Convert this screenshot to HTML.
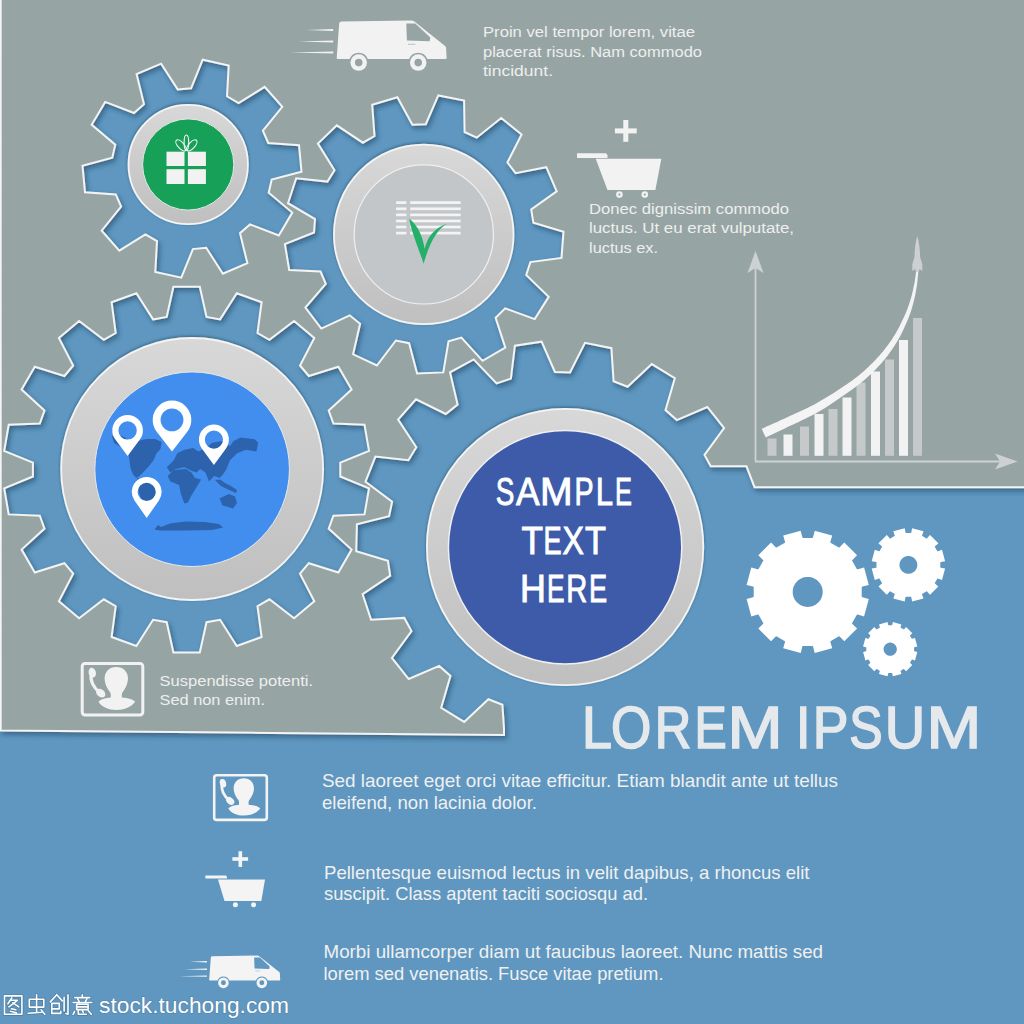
<!DOCTYPE html>
<html><head><meta charset="utf-8"><style>
html,body{margin:0;padding:0;background:#5f97c0;}
svg{display:block;}
text{font-family:"Liberation Sans", sans-serif;}
</style></head><body>
<svg width="1024" height="1024" viewBox="0 0 1024 1024">
<defs>
  <filter id="sh" x="-10%" y="-10%" width="120%" height="120%">
    <feGaussianBlur in="SourceAlpha" stdDeviation="2.6"/>
    <feOffset dx="2" dy="3" result="b"/>
    <feFlood flood-color="#163550" flood-opacity="0.5"/>
    <feComposite in2="b" operator="in"/>
    <feMerge><feMergeNode/><feMergeNode in="SourceGraphic"/></feMerge>
  </filter>
  <filter id="rsh" x="-20%" y="-20%" width="140%" height="140%">
    <feGaussianBlur in="SourceAlpha" stdDeviation="1.6"/>
    <feOffset dx="0" dy="-0.8" result="b"/>
    <feFlood flood-color="#163550" flood-opacity="0.55"/>
    <feComposite in2="b" operator="in"/>
    <feMerge><feMergeNode/><feMergeNode in="SourceGraphic"/></feMerge>
  </filter>
  <linearGradient id="ring" x1="0" y1="0" x2="0" y2="1">
    <stop offset="0" stop-color="#d8d8d8"/><stop offset="1" stop-color="#bfbfbf"/>
  </linearGradient>
</defs>
<rect width="1024" height="1024" fill="#5f97c0"/>
<path d="M746.5,466.3 L754.5,487.2 L1027.0,487.2 L1027.0,-3.0 L0.7,-3.0 L0.7,730.5 L504.0,735.0 L504.0,728.8 L502.4,704.7 L488.4,699.2 L464.2,721.9 L441.2,707.8 L450.5,675.9 L439.2,665.9 L408.7,679.0 L391.9,657.9 L411.5,631.1 L404.3,617.9 L371.1,619.7 L362.6,594.2 L390.2,575.7 L387.9,560.8 L356.2,551.2 L356.9,524.2 L389.1,516.3 L392.1,501.6 L365.5,481.7 L375.4,456.6 L408.4,460.2 L416.3,447.3 L398.1,419.6 L416.0,399.3 L445.8,414.0 L457.6,404.6 L450.0,372.3 L473.7,359.4 L496.6,383.4 L510.9,378.6 L514.9,345.7 L541.6,341.7 L554.9,372.0 L570.0,372.4 L585.0,342.8 L611.4,348.2 L613.6,381.3 L627.6,386.8 L651.8,364.1 L674.8,378.2 L665.5,410.1 L676.8,420.1 L707.3,407.0 L724.1,428.1 L704.5,454.9 L710.7,466.3 L744.0,466.3 L744.9,466.3 L744.9,466.3ZM177.8,89.6 L191.1,88.3 L202.7,59.7 L228.7,65.5 L227.0,96.3 L238.6,103.1 L264.7,86.8 L282.3,106.8 L262.9,130.7 L268.2,143.0 L299.0,145.2 L301.5,171.7 L271.7,179.6 L268.7,192.7 L292.3,212.6 L278.8,235.5 L250.0,224.4 L240.0,233.2 L247.4,263.2 L222.9,273.7 L206.2,247.8 L192.9,249.1 L181.3,277.7 L155.3,271.9 L157.0,241.1 L145.4,234.3 L119.3,250.6 L101.7,230.6 L121.1,206.7 L115.8,194.4 L85.0,192.2 L82.5,165.7 L112.3,157.8 L115.3,144.7 L91.7,124.8 L105.2,101.9 L134.0,113.0 L144.0,104.2 L136.6,74.2 L161.1,63.7ZM412.4,124.8 L425.8,124.2 L438.3,95.4 L464.1,100.6 L464.6,132.0 L476.7,137.7 L501.2,118.0 L521.6,134.5 L507.4,162.5 L515.6,173.2 L546.3,167.2 L556.7,191.3 L531.2,209.5 L533.4,222.8 L563.5,231.7 L561.5,257.9 L530.4,262.1 L526.2,274.9 L548.7,296.8 L534.7,319.1 L505.2,308.4 L495.6,317.7 L505.3,347.6 L482.6,360.8 L461.4,337.6 L448.5,341.4 L443.3,372.4 L417.1,373.5 L409.1,343.2 L395.9,340.5 L376.9,365.5 L353.1,354.3 L360.1,323.8 L349.7,315.3 L321.3,328.6 L305.4,307.6 L325.8,283.8 L320.5,271.5 L289.2,270.0 L284.9,244.1 L314.0,232.5 L315.0,219.1 L288.0,203.2 L296.2,178.3 L327.4,181.6 L334.5,170.2 L317.9,143.6 L336.8,125.3 L362.9,142.7 L374.5,136.0 L372.2,104.7 L397.4,97.3ZM153.1,319.4 L166.7,317.0 L173.4,286.7 L199.8,286.7 L206.5,317.0 L220.1,319.4 L236.8,293.2 L261.6,302.2 L257.5,333.0 L269.4,339.9 L294.1,321.0 L314.3,337.9 L300.0,365.5 L308.8,376.0 L338.4,366.7 L351.6,389.6 L328.7,410.6 L333.4,423.5 L364.5,424.8 L369.0,450.8 L340.3,462.7 L340.3,476.5 L369.0,488.4 L364.5,514.4 L333.4,515.7 L328.7,528.6 L351.6,549.6 L338.4,572.5 L308.8,563.2 L300.0,573.7 L314.3,601.3 L294.1,618.2 L269.4,599.3 L257.5,606.2 L261.6,637.0 L236.8,646.0 L220.1,619.8 L206.5,622.2 L199.8,652.5 L173.4,652.5 L166.7,622.2 L153.1,619.8 L136.4,646.0 L111.6,637.0 L115.7,606.2 L103.8,599.3 L79.1,618.2 L58.9,601.3 L73.2,573.7 L64.4,563.2 L34.8,572.5 L21.6,549.6 L44.5,528.6 L39.8,515.7 L8.7,514.4 L4.2,488.4 L32.9,476.5 L32.9,462.7 L4.2,450.8 L8.7,424.8 L39.8,423.5 L44.5,410.6 L21.6,389.6 L34.8,366.7 L64.4,376.0 L73.2,365.5 L58.9,337.9 L79.1,321.0 L103.8,339.9 L115.7,333.0 L111.6,302.2 L136.4,293.2Z" fill="#96a5a4" stroke="#f4f4f4" stroke-width="2.0" stroke-linejoin="miter" filter="url(#sh)"/>

<g filter="url(#rsh)">
<circle cx="188.2" cy="164.5" r="59.7" fill="url(#ring)" stroke="#f4f4f4" stroke-width="1.8"/>
<circle cx="423.75" cy="234.4" r="89.8" fill="url(#ring)" stroke="#f4f4f4" stroke-width="1.8"/>
<circle cx="192.15" cy="469" r="131" fill="url(#ring)" stroke="#f4f4f4" stroke-width="1.8"/>
<circle cx="565.1" cy="547" r="138.2" fill="url(#ring)" stroke="#f4f4f4" stroke-width="1.8"/>
</g>
<circle cx="188.2" cy="164.5" r="45.6" fill="#16a058" stroke="#e8e8e8" stroke-width="1"/>
<circle cx="423.8" cy="234.4" r="69.6" fill="#c2c6c9" stroke="#f0f0f0" stroke-width="1.2"/>
<circle cx="192.15" cy="469.2" r="97.3" fill="#428eef" stroke="#e8e8e8" stroke-width="1"/>
<circle cx="565.1" cy="547.3" r="116.7" fill="#3d5ba8" stroke="#f0f0f0" stroke-width="1.5"/>

<g fill="#f2f2f2">
<rect x="166.5" y="151.7" width="18" height="14.3"/><rect x="187.9" y="151.7" width="18" height="14.3"/>
<rect x="166.5" y="169.2" width="18" height="14.8"/><rect x="187.9" y="169.2" width="18" height="14.8"/>
</g>
<g fill="none" stroke="#f2f2f2" stroke-width="1.15">
<ellipse cx="186.4" cy="142.6" rx="2.3" ry="7.6"/>
<ellipse cx="181" cy="145.4" rx="3.1" ry="6.9" transform="rotate(-42 181 145.4)"/>
<ellipse cx="191.8" cy="145.4" rx="3.1" ry="6.9" transform="rotate(42 191.8 145.4)"/>
</g>

<g fill="#f4f4f4">
<rect x="396.1" y="201.25" width="10.3" height="2.7"/><rect x="410.2" y="201.25" width="50.5" height="2.7"/><rect x="396.1" y="207.45" width="10.3" height="2.7"/><rect x="410.2" y="207.45" width="50.5" height="2.7"/><rect x="396.1" y="213.55" width="10.3" height="2.7"/><rect x="410.2" y="213.55" width="50.5" height="2.7"/><rect x="396.1" y="219.65" width="10.3" height="2.7"/><rect x="410.2" y="219.65" width="50.5" height="2.7"/><rect x="396.1" y="225.65" width="10.3" height="2.7"/><rect x="410.2" y="225.65" width="50.5" height="2.7"/><rect x="396.1" y="231.75" width="10.3" height="2.7"/><rect x="410.2" y="231.75" width="50.5" height="2.7"/>
</g>
<path d="M409.1,218.4 C418,225 423,237 424.6,249 C427.5,237 434,228 447.4,223.5 C438,228.5 430,241 423.6,263.75 C418.5,248 411.5,232 409.1,218.4 Z" fill="#25b06a"/>

<g fill="#2d62ad">
<path d="M112,436 L118,435 L124,437 L130,441 L138,441 L146,439 L155.3,439 L161.6,442 L160.5,449 L156,454 L153.75,460 L149,466 L145,470.5 L142,473.5 L139,476.5 L136,477.5 L133,474.5 L130.5,468 L129.5,461 L128.5,453 L121,447 L114,443 Z"/>
<path d="M136,477 L141,479.5 L145,481.5 L140,482.5 Z"/>
<path d="M138.1,483.1 L147.5,481.6 L156.9,489.4 L155.3,498.75 L150.6,508.1 L147.5,514.4 L142.8,503.4 L138.9,492.5 Z"/>
<path d="M166.8,467.3 L173.8,460.3 L177.3,453.3 L184.4,449.8 L193.1,448 L198.4,451.5 L205.4,448 L212.5,442.7 L222,441 L230,446.2 L233.6,441 L240.6,437.5 L254.7,439.2 L258.2,442.7 L256.4,451.5 L245.9,449.8 L237.1,453.3 L230,460.3 L226.5,469.1 L223,474.4 L219.5,477.9 L214.2,476.1 L209,481.4 L205.4,472.6 L200.2,469.1 L196.6,472.6 L191.4,470.8 L184.4,467.3 L175.6,469.1 L170.3,472.6 Z"/>
<path d="M167.7,476.1 L173.8,470 L186.1,469.1 L191.4,472.6 L194.9,477.9 L201.1,479.6 L195.8,488.4 L191.4,495.4 L187.9,502.5 L184.4,503.4 L180.8,493.7 L179.1,484.9 L170.3,481.4 Z"/>
<path d="M215,480 L220,479.5 L225,483 L231,486 L237,490 L236,493 L229,490 L221,486 Z"/>
<path d="M219.5,498.5 L228.75,494 L235,496.5 L237,503 L233,508.5 L228,507 L222.5,505.5 Z"/>
<path d="M154.5,529.5 L158,525 L161,527 L170,523.5 L185,521.5 L205,522 L219,524 L223,527.5 L212,530 L185,530.6 L160,530.6 Z"/>
</g>
<path fill-rule="evenodd" fill="#ffffff" d="M127.60,455.90 L115.36,439.58 A15.3,15.3 0 1 1 139.84,439.58 Z M118.40,430.40 A9.2,9.2 0 1 0 136.80,430.40 A9.2,9.2 0 1 0 118.40,430.40 Z"/>
<path fill-rule="evenodd" fill="#ffffff" d="M172.00,451.50 L156.72,431.69 A19.3,19.3 0 1 1 187.28,431.69 Z M160.60,419.90 A11.4,11.4 0 1 0 183.40,419.90 A11.4,11.4 0 1 0 160.60,419.90 Z"/>
<path fill-rule="evenodd" fill="#ffffff" d="M213.90,465.00 L201.79,448.46 A15,15 0 1 1 226.01,448.46 Z M204.80,439.60 A9.1,9.1 0 1 0 223.00,439.60 A9.1,9.1 0 1 0 204.80,439.60 Z"/>
<path fill-rule="evenodd" fill="#ffffff" d="M146.70,518.00 L134.47,500.41 A14.9,14.9 0 1 1 158.93,500.41 Z M137.60,491.90 A9.1,9.1 0 1 0 155.80,491.90 A9.1,9.1 0 1 0 137.60,491.90 Z"/>

<g fill="#ffffff" stroke="#ffffff" stroke-width="0.9" font-size="38.3">
<text transform="translate(495.66,504.6) scale(0.7283,1)" x="0" y="0">S</text>
<text transform="translate(516.05,504.6) scale(0.9218,1)" x="0" y="0">A</text>
<text transform="translate(540.02,504.6) scale(1.0210,1)" x="0" y="0">M</text>
<text transform="translate(574.56,504.6) scale(0.7488,1)" x="0" y="0">P</text>
<text transform="translate(595.66,504.6) scale(0.8130,1)" x="0" y="0">L</text>
<text transform="translate(615.12,504.6) scale(0.6624,1)" x="0" y="0">E</text>
<text transform="translate(521.54,553.6) scale(0.9207,1)" x="0" y="0">T</text>
<text transform="translate(543.57,553.6) scale(0.7108,1)" x="0" y="0">E</text>
<text transform="translate(562.39,553.6) scale(0.8389,1)" x="0" y="0">X</text>
<text transform="translate(585.06,553.6) scale(0.8978,1)" x="0" y="0">T</text>
<text transform="translate(519.88,601.9) scale(0.9372,1)" x="0" y="0">H</text>
<text transform="translate(547.05,601.9) scale(0.6866,1)" x="0" y="0">E</text>
<text transform="translate(566.32,601.9) scale(0.7612,1)" x="0" y="0">R</text>
<text transform="translate(588.97,601.9) scale(0.7108,1)" x="0" y="0">E</text>
</g>

<g transform="translate(336.7,20.5) scale(1.0)" fill="#f2f2f2">
  <path d="M2.5,3 Q2.6,1.2 5,1.1 L74,0 Q76.5,0 78,1.2 L108.4,25.5 Q109.3,26.3 109.4,27.5 L109.9,37.5 Q109.9,38.5 109,38.5 L90.6,38.5 A9.8,9.8 0 0 0 72.4,38.5 L31.1,38.5 A9.8,9.8 0 0 0 12.9,38.5 L1,38.5 Q0,38.5 0,37.5 Z"/>
  <path d="M69.6,3 L78.6,3 L93.6,17 L93,20.7 L70.2,20.1 Z" fill="#96a5a4"/>
  <rect x="71.3" y="23.3" width="7.5" height="1" fill="#96a5a4" opacity="0.6"/>
  <circle cx="22" cy="42.1" r="8.25"/><circle cx="81.5" cy="42.1" r="8.25"/>
  <circle cx="22" cy="42.1" r="3.8" fill="#96a5a4"/><circle cx="81.5" cy="42.1" r="3.8" fill="#96a5a4"/>
  <path d="M-3.5,8.5 L-30.1,9.5 L-3.5,10.5 Z M-3.5,20.1 L-38.4,21.1 L-3.5,22.1 Z M-3.5,30.9 L-46.7,31.9 L-3.5,32.9 Z"/>
</g>

<g fill="#f2f2f2">
<rect x="623.3" y="120" width="5" height="21.8"/><rect x="614.9" y="128.4" width="21.8" height="5"/>
<path d="M577,153.3 L606,153.3 L607.5,155 L607.5,158 L577,158 Z"/>
<path d="M595.7,158.7 L661.3,158.7 L655.4,190 L607.5,190 Z"/>
<circle cx="619.4" cy="194.6" r="3.3"/><circle cx="644.8" cy="194.6" r="3.3"/><circle cx="619.4" cy="194.6" r="1.1" fill="#96a5a4"/><circle cx="644.8" cy="194.6" r="1.1" fill="#96a5a4"/>
</g>

<g stroke="#cdd1d1" stroke-width="1.8" fill="none">
<line x1="755.5" y1="262" x2="755.5" y2="461.5"/>
<line x1="755" y1="461.5" x2="1006" y2="461.5"/>
</g>
<path d="M755.5,251 L747.5,273 L755.5,268 L763.5,273 Z" fill="#cdd1d1"/>
<path d="M1017.5,461.5 L995,453.5 L1000,461.5 L995,469.5 Z" fill="#cdd1d1"/>
<g>
<rect x="767.5" y="438.5" width="9" height="17.3" fill="#c6c9c9"/>
<rect x="783.5" y="434.5" width="9" height="21.3" fill="#f2f2f2"/>
<rect x="800" y="426.5" width="9" height="29.3" fill="#c6c9c9"/>
<rect x="814.5" y="414.0" width="9" height="41.8" fill="#f2f2f2"/>
<rect x="828.5" y="409.0" width="9" height="46.8" fill="#c6c9c9"/>
<rect x="842.5" y="397.5" width="9" height="58.3" fill="#f2f2f2"/>
<rect x="856.5" y="382.5" width="9" height="73.3" fill="#c6c9c9"/>
<rect x="871" y="371.5" width="9" height="84.3" fill="#f2f2f2"/>
<rect x="885" y="359.5" width="9" height="96.3" fill="#c6c9c9"/>
<rect x="899" y="340.0" width="9" height="115.8" fill="#f2f2f2"/>
<rect x="913" y="318.0" width="9" height="137.8" fill="#c6c9c9"/>
</g>
<path d="M765.7,437.4 L767.7,436.5 L770.4,435.2 L773.6,433.7 L777.2,432.0 L781.0,430.2 L784.8,428.4 L788.5,426.6 L792.0,425.0 L795.3,423.4 L798.6,421.9 L801.9,420.3 L805.2,418.8 L808.5,417.1 L811.8,415.5 L815.2,413.7 L818.6,411.8 L822.0,409.8 L825.4,407.7 L828.8,405.5 L832.2,403.3 L835.5,401.1 L838.8,398.8 L842.0,396.6 L845.0,394.5 L847.9,392.4 L850.7,390.4 L853.5,388.4 L856.1,386.5 L858.8,384.5 L861.3,382.4 L863.8,380.4 L866.3,378.3 L868.7,376.1 L871.1,373.9 L873.4,371.7 L875.6,369.4 L877.8,367.1 L880.0,364.8 L882.1,362.5 L884.1,360.1 L886.0,357.7 L887.9,355.3 L889.7,352.8 L891.5,350.3 L893.2,347.8 L894.8,345.3 L896.4,342.7 L898.0,340.1 L899.5,337.5 L900.9,334.7 L902.3,331.9 L903.7,329.1 L904.9,326.3 L906.1,323.6 L907.2,321.0 L908.3,318.5 L909.2,316.1 L910.0,313.9 L910.8,311.7 L911.5,309.6 L912.1,307.5 L912.6,305.5 L913.2,303.4 L913.7,301.4 L914.2,299.3 L914.7,297.2 L915.2,295.2 L915.6,293.1 L915.9,291.1 L916.3,289.1 L916.6,287.2 L916.9,285.2 L917.2,283.3 L917.4,281.2 L917.6,279.2 L917.8,277.1 L918.0,275.3 L918.2,273.6 L918.3,272.2 L918.4,271.1 L916.2,270.9 L916.1,271.9 L915.9,273.3 L915.7,275.0 L915.4,276.9 L915.1,278.8 L914.8,280.9 L914.5,282.9 L914.1,284.8 L913.7,286.6 L913.3,288.5 L912.9,290.5 L912.4,292.4 L912.0,294.4 L911.4,296.4 L910.9,298.4 L910.3,300.4 L909.6,302.4 L909.0,304.4 L908.3,306.3 L907.6,308.3 L906.9,310.3 L906.1,312.3 L905.1,314.5 L904.1,316.7 L903.0,319.1 L901.8,321.6 L900.5,324.2 L899.2,326.9 L897.8,329.6 L896.3,332.2 L894.8,334.8 L893.2,337.3 L891.7,339.7 L890.0,342.1 L888.3,344.5 L886.6,346.8 L884.8,349.1 L883.0,351.4 L881.1,353.6 L879.1,355.9 L877.1,358.1 L875.1,360.3 L873.0,362.5 L870.8,364.6 L868.6,366.7 L866.4,368.8 L864.1,370.9 L861.7,372.9 L859.3,374.9 L856.9,376.9 L854.4,378.8 L851.9,380.7 L849.2,382.5 L846.5,384.4 L843.7,386.3 L840.8,388.3 L837.7,390.3 L834.5,392.4 L831.2,394.5 L827.9,396.6 L824.5,398.6 L821.1,400.6 L817.7,402.6 L814.4,404.4 L811.2,406.1 L808.0,407.7 L804.7,409.3 L801.4,410.8 L798.1,412.3 L794.8,413.8 L791.5,415.3 L788.2,416.8 L784.7,418.4 L781.0,420.1 L777.1,421.9 L773.3,423.6 L769.7,425.2 L766.5,426.6 L763.8,427.9 L761.7,428.8Z" fill="#f4f4f4"/>
<path d="M917.3,236 C915.5,242 914.5,250 914.5,257 L912.3,264 L912.3,271 L915,269 L916,272 L918.6,272 L919.6,269 L922.3,271 L922.3,264 L920.1,257 C920.1,250 919.1,242 917.3,236 Z" fill="#cdd0d0"/>

<g fill="#ffffff">
<path d="M746.7,584.9 L752.9,586.5 L753.0,586.5 L753.1,586.6 L753.2,586.6 L753.3,586.7 L753.4,586.8 L753.5,586.8 L753.5,586.9 L753.6,587.0 L753.6,587.1 L753.7,587.2 L753.7,587.3 L753.7,587.4 L753.7,587.5 L753.7,596.3 L753.7,596.4 L753.7,596.5 L753.7,596.6 L753.6,596.7 L753.6,596.8 L753.5,596.9 L753.5,597.0 L753.4,597.0 L753.3,597.1 L753.2,597.2 L753.1,597.2 L753.0,597.3 L752.9,597.3 L746.7,598.9 L746.6,598.9 L746.6,598.9 L751.3,616.3 L751.3,616.4 L751.3,616.4 L757.6,614.6 L757.7,614.6 L757.8,614.6 L757.9,614.6 L758.0,614.6 L758.1,614.6 L758.2,614.6 L758.3,614.7 L758.4,614.7 L758.5,614.8 L758.5,614.8 L758.6,614.9 L758.7,615.0 L758.7,615.1 L763.1,622.7 L763.2,622.8 L763.2,622.9 L763.3,623.0 L763.3,623.1 L763.3,623.2 L763.3,623.3 L763.3,623.4 L763.2,623.5 L763.2,623.6 L763.2,623.7 L763.1,623.8 L763.0,623.9 L763.0,623.9 L758.3,628.5 L758.3,628.5 L758.3,628.5 L771.1,641.3 L771.1,641.3 L771.1,641.3 L775.7,636.6 L775.7,636.6 L775.8,636.5 L775.9,636.4 L776.0,636.4 L776.1,636.4 L776.2,636.3 L776.3,636.3 L776.4,636.3 L776.5,636.3 L776.6,636.3 L776.7,636.4 L776.8,636.4 L776.9,636.5 L784.5,640.9 L784.6,640.9 L784.7,641.0 L784.8,641.1 L784.8,641.1 L784.9,641.2 L784.9,641.3 L785.0,641.4 L785.0,641.5 L785.0,641.6 L785.0,641.7 L785.0,641.8 L785.0,641.9 L785.0,642.0 L783.2,648.3 L783.2,648.3 L783.3,648.3 L800.7,653.0 L800.7,653.0 L800.7,652.9 L802.3,646.7 L802.3,646.6 L802.4,646.5 L802.4,646.4 L802.5,646.3 L802.6,646.2 L802.6,646.1 L802.7,646.1 L802.8,646.0 L802.9,646.0 L803.0,645.9 L803.1,645.9 L803.2,645.9 L803.3,645.9 L812.1,645.9 L812.2,645.9 L812.3,645.9 L812.4,645.9 L812.5,646.0 L812.6,646.0 L812.7,646.1 L812.8,646.1 L812.8,646.2 L812.9,646.3 L813.0,646.4 L813.0,646.5 L813.1,646.6 L813.1,646.7 L814.7,652.9 L814.7,653.0 L814.7,653.0 L832.1,648.3 L832.2,648.3 L832.2,648.3 L830.4,642.0 L830.4,641.9 L830.4,641.8 L830.4,641.7 L830.4,641.6 L830.4,641.5 L830.4,641.4 L830.5,641.3 L830.5,641.2 L830.6,641.1 L830.6,641.1 L830.7,641.0 L830.8,640.9 L830.9,640.9 L838.5,636.5 L838.6,636.4 L838.7,636.4 L838.8,636.3 L838.9,636.3 L839.0,636.3 L839.1,636.3 L839.2,636.3 L839.3,636.4 L839.4,636.4 L839.5,636.4 L839.6,636.5 L839.7,636.6 L839.7,636.6 L844.3,641.3 L844.3,641.3 L844.3,641.3 L857.1,628.5 L857.1,628.5 L857.1,628.5 L852.4,623.9 L852.4,623.9 L852.3,623.8 L852.2,623.7 L852.2,623.6 L852.2,623.5 L852.1,623.4 L852.1,623.3 L852.1,623.2 L852.1,623.1 L852.1,623.0 L852.2,622.9 L852.2,622.8 L852.3,622.7 L856.7,615.1 L856.7,615.0 L856.8,614.9 L856.9,614.8 L856.9,614.8 L857.0,614.7 L857.1,614.7 L857.2,614.6 L857.3,614.6 L857.4,614.6 L857.5,614.6 L857.6,614.6 L857.7,614.6 L857.8,614.6 L864.1,616.4 L864.1,616.4 L864.1,616.3 L868.8,598.9 L868.8,598.9 L868.7,598.9 L862.5,597.3 L862.4,597.3 L862.3,597.2 L862.2,597.2 L862.1,597.1 L862.0,597.0 L861.9,597.0 L861.9,596.9 L861.8,596.8 L861.8,596.7 L861.7,596.6 L861.7,596.5 L861.7,596.4 L861.7,596.3 L861.7,587.5 L861.7,587.4 L861.7,587.3 L861.7,587.2 L861.8,587.1 L861.8,587.0 L861.9,586.9 L861.9,586.8 L862.0,586.8 L862.1,586.7 L862.2,586.6 L862.3,586.6 L862.4,586.5 L862.5,586.5 L868.7,584.9 L868.8,584.9 L868.8,584.9 L864.1,567.5 L864.1,567.4 L864.1,567.4 L857.8,569.2 L857.7,569.2 L857.6,569.2 L857.5,569.2 L857.4,569.2 L857.3,569.2 L857.2,569.2 L857.1,569.1 L857.0,569.1 L856.9,569.0 L856.9,569.0 L856.8,568.9 L856.7,568.8 L856.7,568.7 L852.3,561.1 L852.2,561.0 L852.2,560.9 L852.1,560.8 L852.1,560.7 L852.1,560.6 L852.1,560.5 L852.1,560.4 L852.2,560.3 L852.2,560.2 L852.2,560.1 L852.3,560.0 L852.4,559.9 L852.4,559.9 L857.1,555.3 L857.1,555.3 L857.1,555.3 L844.3,542.5 L844.3,542.5 L844.3,542.5 L839.7,547.2 L839.7,547.2 L839.6,547.3 L839.5,547.4 L839.4,547.4 L839.3,547.4 L839.2,547.5 L839.1,547.5 L839.0,547.5 L838.9,547.5 L838.8,547.5 L838.7,547.4 L838.6,547.4 L838.5,547.3 L830.9,542.9 L830.8,542.9 L830.7,542.8 L830.6,542.7 L830.6,542.7 L830.5,542.6 L830.5,542.5 L830.4,542.4 L830.4,542.3 L830.4,542.2 L830.4,542.1 L830.4,542.0 L830.4,541.9 L830.4,541.8 L832.2,535.5 L832.2,535.5 L832.1,535.5 L814.7,530.8 L814.7,530.8 L814.7,530.9 L813.1,537.1 L813.1,537.2 L813.0,537.3 L813.0,537.4 L812.9,537.5 L812.8,537.6 L812.8,537.7 L812.7,537.7 L812.6,537.8 L812.5,537.8 L812.4,537.9 L812.3,537.9 L812.2,537.9 L812.1,537.9 L803.3,537.9 L803.2,537.9 L803.1,537.9 L803.0,537.9 L802.9,537.8 L802.8,537.8 L802.7,537.7 L802.6,537.7 L802.6,537.6 L802.5,537.5 L802.4,537.4 L802.4,537.3 L802.3,537.2 L802.3,537.1 L800.7,530.9 L800.7,530.8 L800.7,530.8 L783.3,535.5 L783.2,535.5 L783.2,535.5 L785.0,541.8 L785.0,541.9 L785.0,542.0 L785.0,542.1 L785.0,542.2 L785.0,542.3 L785.0,542.4 L784.9,542.5 L784.9,542.6 L784.8,542.7 L784.8,542.7 L784.7,542.8 L784.6,542.9 L784.5,542.9 L776.9,547.3 L776.8,547.4 L776.7,547.4 L776.6,547.5 L776.5,547.5 L776.4,547.5 L776.3,547.5 L776.2,547.5 L776.1,547.4 L776.0,547.4 L775.9,547.4 L775.8,547.3 L775.7,547.2 L775.7,547.2 L771.1,542.5 L771.1,542.5 L771.1,542.5 L758.3,555.3 L758.3,555.3 L758.3,555.3 L763.0,559.9 L763.0,559.9 L763.1,560.0 L763.2,560.1 L763.2,560.2 L763.2,560.3 L763.3,560.4 L763.3,560.5 L763.3,560.6 L763.3,560.7 L763.3,560.8 L763.2,560.9 L763.2,561.0 L763.1,561.1 L758.7,568.7 L758.7,568.8 L758.6,568.9 L758.5,569.0 L758.5,569.0 L758.4,569.1 L758.3,569.1 L758.2,569.2 L758.1,569.2 L758.0,569.2 L757.9,569.2 L757.8,569.2 L757.7,569.2 L757.6,569.2 L751.3,567.4 L751.3,567.4 L751.3,567.5 L746.6,584.9 L746.6,584.9ZM822.6,593.5 L822.4,595.0 L822.0,596.5 L821.4,598.0 L820.7,599.4 L819.8,600.7 L818.8,601.9 L817.7,603.0 L816.5,604.0 L815.2,604.9 L813.8,605.6 L812.3,606.2 L810.8,606.6 L809.3,606.8 L807.7,606.9 L806.1,606.8 L804.6,606.6 L803.1,606.2 L801.6,605.6 L800.2,604.9 L798.9,604.0 L797.7,603.0 L796.6,601.9 L795.6,600.7 L794.7,599.4 L794.0,598.0 L793.4,596.5 L793.0,595.0 L792.8,593.5 L792.7,591.9 L792.8,590.3 L793.0,588.8 L793.4,587.3 L794.0,585.8 L794.7,584.4 L795.6,583.1 L796.6,581.9 L797.7,580.8 L798.9,579.8 L800.2,578.9 L801.6,578.2 L803.1,577.6 L804.6,577.2 L806.1,577.0 L807.7,576.9 L809.3,577.0 L810.8,577.2 L812.3,577.6 L813.8,578.2 L815.2,578.9 L816.5,579.8 L817.7,580.8 L818.8,581.9 L819.8,583.1 L820.7,584.4 L821.4,585.8 L822.0,587.3 L822.4,588.8 L822.6,590.3 L822.7,591.9Z" fill-rule="evenodd"/>
<path d="M871.7,561.2 L876.0,562.0 L876.1,562.0 L876.1,562.0 L876.2,562.1 L876.2,562.1 L876.3,562.1 L876.3,562.2 L876.4,562.2 L876.4,562.3 L876.4,562.3 L876.5,562.4 L876.5,562.4 L876.5,562.5 L876.5,562.5 L876.5,562.6 L876.5,567.2 L876.5,567.3 L876.5,567.3 L876.5,567.4 L876.5,567.4 L876.4,567.5 L876.4,567.5 L876.4,567.6 L876.3,567.6 L876.3,567.7 L876.2,567.7 L876.2,567.7 L876.1,567.8 L876.1,567.8 L876.0,567.8 L871.7,568.6 L871.7,568.6 L871.7,568.6 L874.8,580.0 L874.8,580.0 L874.8,580.0 L878.9,578.6 L879.0,578.6 L879.0,578.6 L879.1,578.6 L879.1,578.6 L879.2,578.6 L879.3,578.6 L879.3,578.6 L879.4,578.6 L879.4,578.6 L879.5,578.7 L879.5,578.7 L879.6,578.8 L879.6,578.8 L879.6,578.9 L881.9,582.8 L882.0,582.9 L882.0,583.0 L882.0,583.0 L882.0,583.1 L882.0,583.1 L882.0,583.2 L882.0,583.2 L882.0,583.3 L882.0,583.4 L881.9,583.4 L881.9,583.5 L881.9,583.5 L881.8,583.6 L881.8,583.6 L878.5,586.4 L878.5,586.5 L878.5,586.5 L886.8,594.8 L886.8,594.8 L886.9,594.8 L889.7,591.5 L889.7,591.5 L889.8,591.4 L889.8,591.4 L889.9,591.4 L889.9,591.3 L890.0,591.3 L890.1,591.3 L890.1,591.3 L890.2,591.3 L890.2,591.3 L890.3,591.3 L890.3,591.3 L890.4,591.3 L890.5,591.4 L894.4,593.7 L894.5,593.7 L894.5,593.7 L894.6,593.8 L894.6,593.8 L894.7,593.9 L894.7,593.9 L894.7,594.0 L894.7,594.0 L894.7,594.1 L894.7,594.2 L894.7,594.2 L894.7,594.3 L894.7,594.3 L894.7,594.4 L893.3,598.5 L893.3,598.5 L893.3,598.5 L904.7,601.6 L904.7,601.6 L904.7,601.6 L905.5,597.3 L905.5,597.2 L905.5,597.2 L905.6,597.1 L905.6,597.1 L905.6,597.0 L905.7,597.0 L905.7,596.9 L905.8,596.9 L905.8,596.9 L905.9,596.8 L905.9,596.8 L906.0,596.8 L906.0,596.8 L906.1,596.8 L910.7,596.8 L910.8,596.8 L910.8,596.8 L910.9,596.8 L910.9,596.8 L911.0,596.9 L911.0,596.9 L911.1,596.9 L911.1,597.0 L911.2,597.0 L911.2,597.1 L911.2,597.1 L911.3,597.2 L911.3,597.2 L911.3,597.3 L912.1,601.6 L912.1,601.6 L912.1,601.6 L923.5,598.5 L923.5,598.5 L923.5,598.5 L922.1,594.4 L922.1,594.3 L922.1,594.3 L922.1,594.2 L922.1,594.2 L922.1,594.1 L922.1,594.0 L922.1,594.0 L922.1,593.9 L922.1,593.9 L922.2,593.8 L922.2,593.8 L922.3,593.7 L922.3,593.7 L922.4,593.7 L926.3,591.4 L926.4,591.3 L926.5,591.3 L926.5,591.3 L926.6,591.3 L926.6,591.3 L926.7,591.3 L926.7,591.3 L926.8,591.3 L926.9,591.3 L926.9,591.4 L927.0,591.4 L927.0,591.4 L927.1,591.5 L927.1,591.5 L929.9,594.8 L930.0,594.8 L930.0,594.8 L938.3,586.5 L938.3,586.5 L938.3,586.4 L935.0,583.6 L935.0,583.6 L934.9,583.5 L934.9,583.5 L934.9,583.4 L934.8,583.4 L934.8,583.3 L934.8,583.2 L934.8,583.2 L934.8,583.1 L934.8,583.1 L934.8,583.0 L934.8,583.0 L934.8,582.9 L934.9,582.8 L937.2,578.9 L937.2,578.8 L937.2,578.8 L937.3,578.7 L937.3,578.7 L937.4,578.6 L937.4,578.6 L937.5,578.6 L937.5,578.6 L937.6,578.6 L937.7,578.6 L937.7,578.6 L937.8,578.6 L937.8,578.6 L937.9,578.6 L942.0,580.0 L942.0,580.0 L942.0,580.0 L945.1,568.6 L945.1,568.6 L945.1,568.6 L940.8,567.8 L940.7,567.8 L940.7,567.8 L940.6,567.7 L940.6,567.7 L940.5,567.7 L940.5,567.6 L940.4,567.6 L940.4,567.5 L940.4,567.5 L940.3,567.4 L940.3,567.4 L940.3,567.3 L940.3,567.3 L940.3,567.2 L940.3,562.6 L940.3,562.5 L940.3,562.5 L940.3,562.4 L940.3,562.4 L940.4,562.3 L940.4,562.3 L940.4,562.2 L940.5,562.2 L940.5,562.1 L940.6,562.1 L940.6,562.1 L940.7,562.0 L940.7,562.0 L940.8,562.0 L945.1,561.2 L945.1,561.2 L945.1,561.2 L942.0,549.8 L942.0,549.8 L942.0,549.8 L937.9,551.2 L937.8,551.2 L937.8,551.2 L937.7,551.2 L937.7,551.2 L937.6,551.2 L937.5,551.2 L937.5,551.2 L937.4,551.2 L937.4,551.2 L937.3,551.1 L937.3,551.1 L937.2,551.0 L937.2,551.0 L937.2,550.9 L934.9,547.0 L934.8,546.9 L934.8,546.8 L934.8,546.8 L934.8,546.7 L934.8,546.7 L934.8,546.6 L934.8,546.6 L934.8,546.5 L934.8,546.4 L934.9,546.4 L934.9,546.3 L934.9,546.3 L935.0,546.2 L935.0,546.2 L938.3,543.4 L938.3,543.3 L938.3,543.3 L930.0,535.0 L930.0,535.0 L929.9,535.0 L927.1,538.3 L927.1,538.3 L927.0,538.4 L927.0,538.4 L926.9,538.4 L926.9,538.5 L926.8,538.5 L926.7,538.5 L926.7,538.5 L926.6,538.5 L926.6,538.5 L926.5,538.5 L926.5,538.5 L926.4,538.5 L926.3,538.4 L922.4,536.1 L922.3,536.1 L922.3,536.1 L922.2,536.0 L922.2,536.0 L922.1,535.9 L922.1,535.9 L922.1,535.8 L922.1,535.8 L922.1,535.7 L922.1,535.6 L922.1,535.6 L922.1,535.5 L922.1,535.5 L922.1,535.4 L923.5,531.3 L923.5,531.3 L923.5,531.3 L912.1,528.2 L912.1,528.2 L912.1,528.2 L911.3,532.5 L911.3,532.6 L911.3,532.6 L911.2,532.7 L911.2,532.7 L911.2,532.8 L911.1,532.8 L911.1,532.9 L911.0,532.9 L911.0,532.9 L910.9,533.0 L910.9,533.0 L910.8,533.0 L910.8,533.0 L910.7,533.0 L906.1,533.0 L906.0,533.0 L906.0,533.0 L905.9,533.0 L905.9,533.0 L905.8,532.9 L905.8,532.9 L905.7,532.9 L905.7,532.8 L905.6,532.8 L905.6,532.7 L905.6,532.7 L905.5,532.6 L905.5,532.6 L905.5,532.5 L904.7,528.2 L904.7,528.2 L904.7,528.2 L893.3,531.3 L893.3,531.3 L893.3,531.3 L894.7,535.4 L894.7,535.5 L894.7,535.5 L894.7,535.6 L894.7,535.6 L894.7,535.7 L894.7,535.8 L894.7,535.8 L894.7,535.9 L894.7,535.9 L894.6,536.0 L894.6,536.0 L894.5,536.1 L894.5,536.1 L894.4,536.1 L890.5,538.4 L890.4,538.5 L890.3,538.5 L890.3,538.5 L890.2,538.5 L890.2,538.5 L890.1,538.5 L890.1,538.5 L890.0,538.5 L889.9,538.5 L889.9,538.4 L889.8,538.4 L889.8,538.4 L889.7,538.3 L889.7,538.3 L886.9,535.0 L886.8,535.0 L886.8,535.0 L878.5,543.3 L878.5,543.3 L878.5,543.4 L881.8,546.2 L881.8,546.2 L881.9,546.3 L881.9,546.3 L881.9,546.4 L882.0,546.4 L882.0,546.5 L882.0,546.6 L882.0,546.6 L882.0,546.7 L882.0,546.7 L882.0,546.8 L882.0,546.8 L882.0,546.9 L881.9,547.0 L879.6,550.9 L879.6,551.0 L879.6,551.0 L879.5,551.1 L879.5,551.1 L879.4,551.2 L879.4,551.2 L879.3,551.2 L879.3,551.2 L879.2,551.2 L879.1,551.2 L879.1,551.2 L879.0,551.2 L879.0,551.2 L878.9,551.2 L874.8,549.8 L874.8,549.8 L874.8,549.8 L871.7,561.2 L871.7,561.2ZM917.3,565.8 L917.1,566.8 L916.9,567.7 L916.5,568.5 L916.1,569.4 L915.6,570.1 L915.0,570.9 L914.4,571.5 L913.6,572.1 L912.9,572.6 L912.0,573.0 L911.2,573.4 L910.3,573.6 L909.3,573.8 L908.4,573.8 L907.5,573.8 L906.5,573.6 L905.6,573.4 L904.8,573.0 L903.9,572.6 L903.2,572.1 L902.4,571.5 L901.8,570.9 L901.2,570.1 L900.7,569.4 L900.3,568.5 L899.9,567.7 L899.7,566.8 L899.5,565.8 L899.5,564.9 L899.5,564.0 L899.7,563.0 L899.9,562.1 L900.3,561.3 L900.7,560.4 L901.2,559.7 L901.8,558.9 L902.4,558.3 L903.2,557.7 L903.9,557.2 L904.8,556.8 L905.6,556.4 L906.5,556.2 L907.5,556.0 L908.4,556.0 L909.3,556.0 L910.3,556.2 L911.2,556.4 L912.0,556.8 L912.9,557.2 L913.6,557.7 L914.4,558.3 L915.0,558.9 L915.6,559.7 L916.1,560.4 L916.5,561.3 L916.9,562.1 L917.1,563.0 L917.3,564.0 L917.3,564.9Z" fill-rule="evenodd"/>
<path d="M863.1,646.5 L865.9,647.2 L866.0,647.2 L866.0,647.2 L866.0,647.2 L866.1,647.2 L866.1,647.3 L866.2,647.3 L866.2,647.3 L866.2,647.4 L866.2,647.4 L866.3,647.5 L866.3,647.5 L866.3,647.6 L866.3,647.6 L866.3,647.6 L866.3,650.8 L866.3,650.8 L866.3,650.8 L866.3,650.9 L866.3,650.9 L866.2,651.0 L866.2,651.0 L866.2,651.1 L866.2,651.1 L866.1,651.1 L866.1,651.2 L866.0,651.2 L866.0,651.2 L866.0,651.2 L865.9,651.2 L863.1,651.9 L863.1,651.9 L863.1,651.9 L865.4,660.4 L865.4,660.4 L865.4,660.4 L868.1,659.6 L868.2,659.6 L868.2,659.6 L868.3,659.6 L868.3,659.6 L868.4,659.6 L868.4,659.6 L868.5,659.6 L868.5,659.6 L868.6,659.6 L868.6,659.7 L868.6,659.7 L868.7,659.7 L868.7,659.8 L868.7,659.8 L870.3,662.5 L870.3,662.5 L870.3,662.6 L870.3,662.6 L870.3,662.7 L870.3,662.7 L870.3,662.8 L870.3,662.8 L870.3,662.9 L870.3,662.9 L870.3,663.0 L870.3,663.0 L870.3,663.0 L870.2,663.1 L870.2,663.1 L868.1,665.1 L868.1,665.1 L868.1,665.1 L874.3,671.3 L874.3,671.3 L874.3,671.3 L876.3,669.2 L876.3,669.2 L876.4,669.1 L876.4,669.1 L876.4,669.1 L876.5,669.1 L876.5,669.1 L876.6,669.1 L876.6,669.1 L876.7,669.1 L876.7,669.1 L876.8,669.1 L876.8,669.1 L876.9,669.1 L876.9,669.1 L879.6,670.7 L879.6,670.7 L879.7,670.7 L879.7,670.8 L879.7,670.8 L879.8,670.8 L879.8,670.9 L879.8,670.9 L879.8,671.0 L879.8,671.0 L879.8,671.1 L879.8,671.1 L879.8,671.2 L879.8,671.2 L879.8,671.3 L879.0,674.0 L879.0,674.0 L879.0,674.0 L887.5,676.3 L887.5,676.3 L887.5,676.3 L888.2,673.5 L888.2,673.4 L888.2,673.4 L888.2,673.4 L888.2,673.3 L888.3,673.3 L888.3,673.2 L888.3,673.2 L888.4,673.2 L888.4,673.2 L888.5,673.1 L888.5,673.1 L888.6,673.1 L888.6,673.1 L888.6,673.1 L891.8,673.1 L891.8,673.1 L891.8,673.1 L891.9,673.1 L891.9,673.1 L892.0,673.2 L892.0,673.2 L892.1,673.2 L892.1,673.2 L892.1,673.3 L892.2,673.3 L892.2,673.4 L892.2,673.4 L892.2,673.4 L892.2,673.5 L892.9,676.3 L892.9,676.3 L892.9,676.3 L901.4,674.0 L901.4,674.0 L901.4,674.0 L900.6,671.3 L900.6,671.2 L900.6,671.2 L900.6,671.1 L900.6,671.1 L900.6,671.0 L900.6,671.0 L900.6,670.9 L900.6,670.9 L900.6,670.8 L900.7,670.8 L900.7,670.8 L900.7,670.7 L900.8,670.7 L900.8,670.7 L903.5,669.1 L903.5,669.1 L903.6,669.1 L903.6,669.1 L903.7,669.1 L903.7,669.1 L903.8,669.1 L903.8,669.1 L903.9,669.1 L903.9,669.1 L904.0,669.1 L904.0,669.1 L904.0,669.1 L904.1,669.2 L904.1,669.2 L906.1,671.3 L906.1,671.3 L906.1,671.3 L912.3,665.1 L912.3,665.1 L912.3,665.1 L910.2,663.1 L910.2,663.1 L910.1,663.0 L910.1,663.0 L910.1,663.0 L910.1,662.9 L910.1,662.9 L910.1,662.8 L910.1,662.8 L910.1,662.7 L910.1,662.7 L910.1,662.6 L910.1,662.6 L910.1,662.5 L910.1,662.5 L911.7,659.8 L911.7,659.8 L911.7,659.7 L911.8,659.7 L911.8,659.7 L911.8,659.6 L911.9,659.6 L911.9,659.6 L912.0,659.6 L912.0,659.6 L912.1,659.6 L912.1,659.6 L912.2,659.6 L912.2,659.6 L912.3,659.6 L915.0,660.4 L915.0,660.4 L915.0,660.4 L917.3,651.9 L917.3,651.9 L917.3,651.9 L914.5,651.2 L914.4,651.2 L914.4,651.2 L914.4,651.2 L914.3,651.2 L914.3,651.1 L914.2,651.1 L914.2,651.1 L914.2,651.0 L914.2,651.0 L914.1,650.9 L914.1,650.9 L914.1,650.8 L914.1,650.8 L914.1,650.8 L914.1,647.6 L914.1,647.6 L914.1,647.6 L914.1,647.5 L914.1,647.5 L914.2,647.4 L914.2,647.4 L914.2,647.3 L914.2,647.3 L914.3,647.3 L914.3,647.2 L914.4,647.2 L914.4,647.2 L914.4,647.2 L914.5,647.2 L917.3,646.5 L917.3,646.5 L917.3,646.5 L915.0,638.0 L915.0,638.0 L915.0,638.0 L912.3,638.8 L912.2,638.8 L912.2,638.8 L912.1,638.8 L912.1,638.8 L912.0,638.8 L912.0,638.8 L911.9,638.8 L911.9,638.8 L911.8,638.8 L911.8,638.7 L911.8,638.7 L911.7,638.7 L911.7,638.6 L911.7,638.6 L910.1,635.9 L910.1,635.9 L910.1,635.8 L910.1,635.8 L910.1,635.7 L910.1,635.7 L910.1,635.6 L910.1,635.6 L910.1,635.5 L910.1,635.5 L910.1,635.4 L910.1,635.4 L910.1,635.4 L910.2,635.3 L910.2,635.3 L912.3,633.3 L912.3,633.3 L912.3,633.3 L906.1,627.1 L906.1,627.1 L906.1,627.1 L904.1,629.2 L904.1,629.2 L904.0,629.3 L904.0,629.3 L904.0,629.3 L903.9,629.3 L903.9,629.3 L903.8,629.3 L903.8,629.3 L903.7,629.3 L903.7,629.3 L903.6,629.3 L903.6,629.3 L903.5,629.3 L903.5,629.3 L900.8,627.7 L900.8,627.7 L900.7,627.7 L900.7,627.6 L900.7,627.6 L900.6,627.6 L900.6,627.5 L900.6,627.5 L900.6,627.4 L900.6,627.4 L900.6,627.3 L900.6,627.3 L900.6,627.2 L900.6,627.2 L900.6,627.1 L901.4,624.4 L901.4,624.4 L901.4,624.4 L892.9,622.1 L892.9,622.1 L892.9,622.1 L892.2,624.9 L892.2,625.0 L892.2,625.0 L892.2,625.0 L892.2,625.1 L892.1,625.1 L892.1,625.2 L892.1,625.2 L892.0,625.2 L892.0,625.2 L891.9,625.3 L891.9,625.3 L891.8,625.3 L891.8,625.3 L891.8,625.3 L888.6,625.3 L888.6,625.3 L888.6,625.3 L888.5,625.3 L888.5,625.3 L888.4,625.2 L888.4,625.2 L888.3,625.2 L888.3,625.2 L888.3,625.1 L888.2,625.1 L888.2,625.0 L888.2,625.0 L888.2,625.0 L888.2,624.9 L887.5,622.1 L887.5,622.1 L887.5,622.1 L879.0,624.4 L879.0,624.4 L879.0,624.4 L879.8,627.1 L879.8,627.2 L879.8,627.2 L879.8,627.3 L879.8,627.3 L879.8,627.4 L879.8,627.4 L879.8,627.5 L879.8,627.5 L879.8,627.6 L879.7,627.6 L879.7,627.6 L879.7,627.7 L879.6,627.7 L879.6,627.7 L876.9,629.3 L876.9,629.3 L876.8,629.3 L876.8,629.3 L876.7,629.3 L876.7,629.3 L876.6,629.3 L876.6,629.3 L876.5,629.3 L876.5,629.3 L876.4,629.3 L876.4,629.3 L876.4,629.3 L876.3,629.2 L876.3,629.2 L874.3,627.1 L874.3,627.1 L874.3,627.1 L868.1,633.3 L868.1,633.3 L868.1,633.3 L870.2,635.3 L870.2,635.3 L870.3,635.4 L870.3,635.4 L870.3,635.4 L870.3,635.5 L870.3,635.5 L870.3,635.6 L870.3,635.6 L870.3,635.7 L870.3,635.7 L870.3,635.8 L870.3,635.8 L870.3,635.9 L870.3,635.9 L868.7,638.6 L868.7,638.6 L868.7,638.7 L868.6,638.7 L868.6,638.7 L868.6,638.8 L868.5,638.8 L868.5,638.8 L868.4,638.8 L868.4,638.8 L868.3,638.8 L868.3,638.8 L868.2,638.8 L868.2,638.8 L868.1,638.8 L865.4,638.0 L865.4,638.0 L865.4,638.0 L863.1,646.5 L863.1,646.5ZM896.8,649.9 L896.7,650.6 L896.5,651.2 L896.2,651.9 L895.9,652.5 L895.5,653.1 L895.1,653.6 L894.6,654.1 L894.1,654.5 L893.5,654.9 L892.9,655.2 L892.2,655.5 L891.6,655.7 L890.9,655.8 L890.2,655.8 L889.5,655.8 L888.8,655.7 L888.2,655.5 L887.5,655.2 L886.9,654.9 L886.3,654.5 L885.8,654.1 L885.3,653.6 L884.9,653.1 L884.5,652.5 L884.2,651.9 L883.9,651.2 L883.7,650.6 L883.6,649.9 L883.6,649.2 L883.6,648.5 L883.7,647.8 L883.9,647.2 L884.2,646.5 L884.5,645.9 L884.9,645.3 L885.3,644.8 L885.8,644.3 L886.3,643.9 L886.9,643.5 L887.5,643.2 L888.2,642.9 L888.8,642.7 L889.5,642.6 L890.2,642.6 L890.9,642.6 L891.6,642.7 L892.2,642.9 L892.9,643.2 L893.5,643.5 L894.1,643.9 L894.6,644.3 L895.1,644.8 L895.5,645.3 L895.9,645.9 L896.2,646.5 L896.5,647.2 L896.7,647.8 L896.8,648.5 L896.8,649.2Z" fill-rule="evenodd"/>
</g>

<g font-size="58.5" fill="#e6e9ec" stroke="#e6e9ec" stroke-width="1.6">
<text transform="translate(581.99,748.4) scale(0.9207,1)" x="0" y="0">L</text>
<text transform="translate(611.00,748.4) scale(0.8874,1)" x="0" y="0">O</text>
<text transform="translate(654.65,748.4) scale(0.8663,1)" x="0" y="0">R</text>
<text transform="translate(694.53,748.4) scale(0.8262,1)" x="0" y="0">E</text>
<text transform="translate(727.61,748.4) scale(1.1302,1)" x="0" y="0">M</text>
<text transform="translate(795.92,748.4) scale(0.8889,1)" x="0" y="0">I</text>
<text transform="translate(812.71,748.4) scale(0.9160,1)" x="0" y="0">P</text>
<text transform="translate(849.20,748.4) scale(0.8547,1)" x="0" y="0">S</text>
<text transform="translate(884.82,748.4) scale(0.9567,1)" x="0" y="0">U</text>
<text transform="translate(926.53,748.4) scale(1.1251,1)" x="0" y="0">M</text>
</g>

<g fill="#eeeeee" font-size="15.5">
<text x="483" y="37.2" textLength="212" lengthAdjust="spacingAndGlyphs">Proin vel tempor lorem, vitae</text>
<text x="483" y="56.8" textLength="219" lengthAdjust="spacingAndGlyphs">placerat risus. Nam commodo</text>
<text x="483" y="76.3" textLength="70" lengthAdjust="spacingAndGlyphs">tincidunt.</text>
<text x="589" y="213.7" textLength="200" lengthAdjust="spacingAndGlyphs">Donec dignissim commodo</text>
<text x="589" y="233.2" textLength="205" lengthAdjust="spacingAndGlyphs">luctus. Ut eu erat vulputate,</text>
<text x="589" y="252.5" textLength="69" lengthAdjust="spacingAndGlyphs">luctus ex.</text>
<text x="159.5" y="685.9" textLength="153.5" lengthAdjust="spacingAndGlyphs">Suspendisse potenti.</text>
<text x="159.5" y="705.3" textLength="105.5" lengthAdjust="spacingAndGlyphs">Sed non enim.</text>
</g>
<g fill="#f0f0f0" font-size="18.2">
<text x="322" y="786.8" textLength="516" lengthAdjust="spacingAndGlyphs">Sed laoreet eget orci vitae efficitur. Etiam blandit ante ut tellus</text>
<text x="322" y="808.8" textLength="215" lengthAdjust="spacingAndGlyphs">eleifend, non lacinia dolor.</text>
<text x="324" y="878.6" textLength="485.5" lengthAdjust="spacingAndGlyphs">Pellentesque euismod lectus in velit dapibus, a rhoncus elit</text>
<text x="324" y="900.4" textLength="324" lengthAdjust="spacingAndGlyphs">suscipit. Class aptent taciti sociosqu ad.</text>
<text x="323.5" y="957.6" textLength="499.5" lengthAdjust="spacingAndGlyphs">Morbi ullamcorper diam ut faucibus laoreet. Nunc mattis sed</text>
<text x="323.5" y="979.6" textLength="340" lengthAdjust="spacingAndGlyphs">lorem sed venenatis. Fusce vitae pretium.</text>
</g>

<g transform="translate(80.7,662.1) scale(1.0)">
  <rect x="1.5" y="1.5" width="60.6" height="51.3" rx="2.8" fill="none" stroke="#f2f2f2" stroke-width="3"/>
  <path fill="#f2f2f2" d="M35.6,4.8 C42.5,4.8 47.4,9.5 47.3,16.5 C47.2,21 45.5,25.5 42.8,28.8 C41.8,30 41.2,31 41.1,32.5 L41.1,35.3 C47.5,35.8 52.8,37.3 54.4,39.7 C51,44.8 43.5,47.9 35.8,47.9 C28,47.9 20.5,44.8 17.8,39.7 C19.5,37.3 24.3,35.8 30.1,35.3 L30.1,32.5 C30,31 29.4,30 28.4,28.8 C25.7,25.5 24,21 23.9,16.5 C23.8,9.5 28.7,4.8 35.6,4.8 Z"/>
  <path fill="none" stroke="#f2f2f2" stroke-width="3.2" stroke-linecap="round" d="M10.5,11 Q8.5,22 19.5,31"/>
  <ellipse cx="11.6" cy="10.6" rx="3.6" ry="5" transform="rotate(-15 11.6 10.6)" fill="#f2f2f2"/>
  <ellipse cx="20" cy="31" rx="3.8" ry="5.2" transform="rotate(-50 20 31)" fill="#f2f2f2"/>
</g>
<g transform="translate(212.9,774) scale(0.868)">
  <rect x="1.5" y="1.5" width="60.6" height="51.3" rx="2.8" fill="none" stroke="#f4f4f4" stroke-width="3"/>
  <path fill="#f4f4f4" d="M35.6,4.8 C42.5,4.8 47.4,9.5 47.3,16.5 C47.2,21 45.5,25.5 42.8,28.8 C41.8,30 41.2,31 41.1,32.5 L41.1,35.3 C47.5,35.8 52.8,37.3 54.4,39.7 C51,44.8 43.5,47.9 35.8,47.9 C28,47.9 20.5,44.8 17.8,39.7 C19.5,37.3 24.3,35.8 30.1,35.3 L30.1,32.5 C30,31 29.4,30 28.4,28.8 C25.7,25.5 24,21 23.9,16.5 C23.8,9.5 28.7,4.8 35.6,4.8 Z"/>
  <path fill="none" stroke="#f4f4f4" stroke-width="3.2" stroke-linecap="round" d="M10.5,11 Q8.5,22 19.5,31"/>
  <ellipse cx="11.6" cy="10.6" rx="3.6" ry="5" transform="rotate(-15 11.6 10.6)" fill="#f4f4f4"/>
  <ellipse cx="20" cy="31" rx="3.8" ry="5.2" transform="rotate(-50 20 31)" fill="#f4f4f4"/>
</g>

<g fill="#f4f4f4">
<rect x="238.5" y="851.2" width="3.6" height="15.7"/><rect x="232.4" y="857.2" width="15.7" height="3.6"/>
<path d="M205.4,875.6 L226,875.6 L227,877 L227,878.6 L205.4,878.6 Z"/>
<path d="M218,879.4 L265,879.4 L261.3,901 L224.5,901 Z"/>
<circle cx="235.4" cy="904.8" r="2.5"/><circle cx="253.6" cy="904.8" r="2.5"/>
</g>

<g transform="translate(209.2,955.6) scale(0.646)" fill="#f4f4f4">
  <path d="M2.5,3 Q2.6,1.2 5,1.1 L74,0 Q76.5,0 78,1.2 L108.4,25.5 Q109.3,26.3 109.4,27.5 L109.9,37.5 Q109.9,38.5 109,38.5 L90.6,38.5 A9.8,9.8 0 0 0 72.4,38.5 L31.1,38.5 A9.8,9.8 0 0 0 12.9,38.5 L1,38.5 Q0,38.5 0,37.5 Z"/>
  <path d="M69.6,3 L78.6,3 L93.6,17 L93,20.7 L70.2,20.1 Z" fill="#5f97c0"/>
  <rect x="71.3" y="23.3" width="7.5" height="1" fill="#5f97c0" opacity="0.6"/>
  <circle cx="22" cy="42.1" r="8.25"/><circle cx="81.5" cy="42.1" r="8.25"/>
  <circle cx="22" cy="42.1" r="3.8" fill="#5f97c0"/><circle cx="81.5" cy="42.1" r="3.8" fill="#5f97c0"/>
  <path d="M-3.5,8.5 L-30.1,9.5 L-3.5,10.5 Z M-3.5,20.1 L-38.4,21.1 L-3.5,22.1 Z M-3.5,30.9 L-46.7,31.9 L-3.5,32.9 Z"/>
</g>

<g stroke="#1f3f5a" stroke-opacity="0.3" stroke-width="3" fill="none" stroke-linecap="round" stroke-linejoin="round">
<g id="cjk">
<g transform="translate(3.9,995.3)"><path d="M0.6,0.6 H18 V19 H0.6 Z M8,2.5 L4,8.5 M7,5 H13.5 L5,11.5 M9,7.5 L15,11.5 M7.5,13.5 L12,14.5 M6.5,16 L12.5,17.5"/></g>
<g transform="translate(27.3,994.3)"><path d="M9.3,0.5 V17 M2,5 H16.5 V12.8 H2 Z M0.8,19 L14.5,18 M13.8,15.5 L17.5,20"/></g>
<g transform="translate(48.8,993.9)"><path d="M8,0.8 L1.5,8 M8,0.8 L13.5,7 M3,9.5 V19.5 H12 V17.5 M3,9.5 H10.5 V15 H3 M15.3,3.5 V17 M19.2,0.8 V20.3 L17.2,19.5"/></g>
<g transform="translate(72.3,994.3)"><path d="M10,0.5 V2.2 M2.5,3.3 H17.5 M5.5,4.8 L6.8,7 M14.5,4.8 L13.2,7 M0.8,8.2 H19.5 M4.3,10 H15.8 V15.3 H4.3 Z M4.3,12.6 H15.8 M2.3,17 L0.8,20 M6,16.5 V20 H14 M10,16.3 L11,18 M16,16.5 L19,20"/></g>
</g>
</g>
<g stroke="#ffffff" stroke-width="1.6" fill="none" stroke-linecap="round" stroke-linejoin="round">
<g transform="translate(3.9,995.3)"><path d="M0.6,0.6 H18 V19 H0.6 Z M8,2.5 L4,8.5 M7,5 H13.5 L5,11.5 M9,7.5 L15,11.5 M7.5,13.5 L12,14.5 M6.5,16 L12.5,17.5"/></g>
<g transform="translate(27.3,994.3)"><path d="M9.3,0.5 V17 M2,5 H16.5 V12.8 H2 Z M0.8,19 L14.5,18 M13.8,15.5 L17.5,20"/></g>
<g transform="translate(48.8,993.9)"><path d="M8,0.8 L1.5,8 M8,0.8 L13.5,7 M3,9.5 V19.5 H12 V17.5 M3,9.5 H10.5 V15 H3 M15.3,3.5 V17 M19.2,0.8 V20.3 L17.2,19.5"/></g>
<g transform="translate(72.3,994.3)"><path d="M10,0.5 V2.2 M2.5,3.3 H17.5 M5.5,4.8 L6.8,7 M14.5,4.8 L13.2,7 M0.8,8.2 H19.5 M4.3,10 H15.8 V15.3 H4.3 Z M4.3,12.6 H15.8 M2.3,17 L0.8,20 M6,16.5 V20 H14 M10,16.3 L11,18 M16,16.5 L19,20"/></g>
</g>
<text x="99" y="1012.8" font-size="22.4" fill="#ffffff" stroke="#1f3f5a" stroke-opacity="0.3" stroke-width="1.2" style="paint-order:stroke" textLength="190" lengthAdjust="spacingAndGlyphs">stock.tuchong.com</text>
</svg>
</body></html>
